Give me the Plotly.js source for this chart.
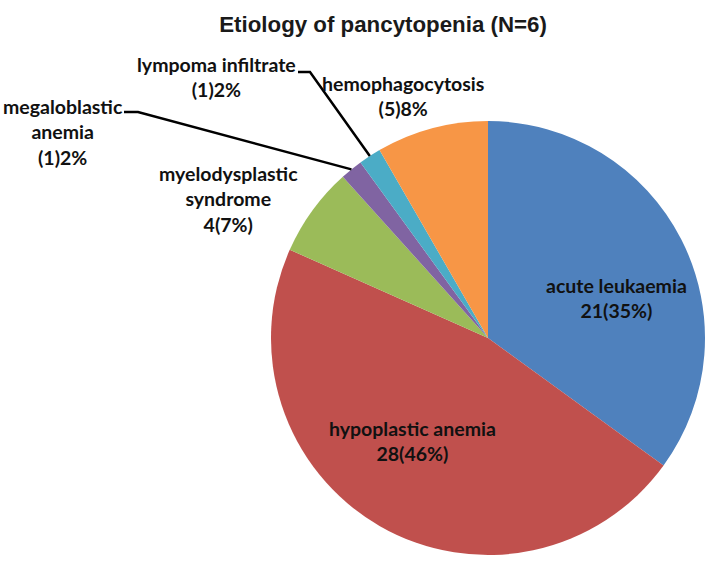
<!DOCTYPE html>
<html><head><meta charset="utf-8">
<script src="https://cdn.plot.ly/plotly-3.0.1.min.js"></script>
<style>body{margin:0;background:#fff}#chart{width:712px;height:561px}</style>
</head><body><div id="chart"></div>
<script>
var categories = ["acute leukaemia","hypoplastic anemia","myelodysplastic syndrome","megaloblastic anemia","lympoma infiltrate","hemophagocytosis"];
var values = [21, 28, 4, 1, 1, 5];
var labelTexts = ["acute leukaemia<br>21(35%)","hypoplastic anemia<br>28(46%)","myelodysplastic<br>syndrome<br>4(7%)","megaloblastic<br>anemia<br>(1)2%","lympoma infiltrate<br>(1)2%","hemophagocytosis<br>(5)8%"];
var colors = ["#4F81BD","#C0504D","#9BBB59","#8064A2","#4BACC6","#F79646"];

var W = 712, H = 561;
var cx = 488, cy = 338, R = 217;
function px(x){return x/W;}
function py(y){return 1 - y/H;}

// label block centres (pixels)
var labelPos = [[616,298],[412,441],[228,199],[63,132],[216,77],[403,96]];
// leader line start points (pixels) for outside labels with leaders
var leaderStart = {3:[124,112,138,112], 4:[298,72,310,72]};

var total = values.reduce(function(a,b){return a+b;},0);
var cum = 0, mids = [];
values.forEach(function(v){ mids.push((cum + v/2)/total*2*Math.PI); cum += v; });

var annotations = categories.map(function(c,i){
  return {xref:'paper',yref:'paper',x:px(labelPos[i][0]),y:py(labelPos[i][1]),
    text:'<b>'+labelTexts[i]+'</b>',showarrow:false,xanchor:'center',yanchor:'middle',
    font:{family:'Lato, "Noto Sans", sans-serif',size:19.5,color:'#111'}};
});

var shapes = [];
Object.keys(leaderStart).forEach(function(k){
  var i = +k, s = leaderStart[k];
  var ex = cx + R*Math.sin(mids[i]), ey = cy - R*Math.cos(mids[i]);
  shapes.push({type:'path',xref:'paper',yref:'paper',
    path:'M'+px(s[0])+','+py(s[1])+' L'+px(s[2])+','+py(s[3])+' L'+px(ex)+','+py(ey),
    line:{color:'#000',width:2.5}});
});

var data = [{type:'pie',labels:categories,values:values,sort:false,direction:'clockwise',rotation:0,
  marker:{colors:colors,line:{width:0}},textinfo:'none',hoverinfo:'label+value',
  domain:{x:[px(cx-R),px(cx+R)],y:[py(cy+R),py(cy-R)]},showlegend:false}];

var layout = {width:W,height:H,margin:{l:0,r:0,t:0,b:0},paper_bgcolor:'#fff',
  title:{text:'<b>Etiology of pancytopenia (N=6)</b>',x:0.538,xanchor:'center',y:0.956,yanchor:'middle',
    font:{family:'Liberation Sans, Arial, sans-serif',size:22.3,color:'#1a1a1a'}},
  annotations:annotations,shapes:shapes};

Plotly.newPlot('chart',data,layout,{displayModeBar:false});
</script></body></html>
